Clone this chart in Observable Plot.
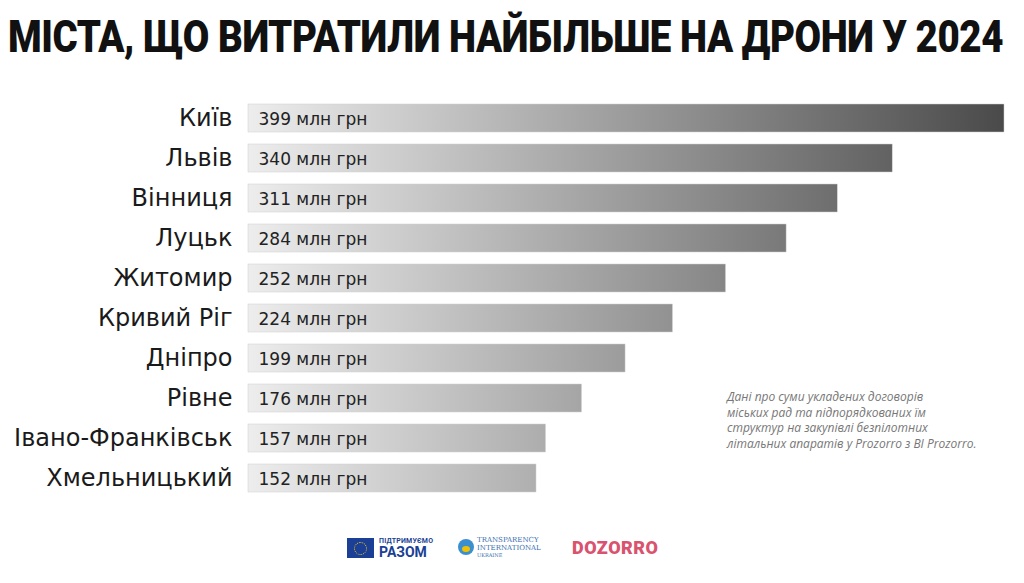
<!DOCTYPE html>
<html>
<head>
<meta charset="utf-8">
<script src="https://cdn.jsdelivr.net/npm/d3@7"></script>
<script src="https://cdn.jsdelivr.net/npm/@observablehq/plot@0.6"></script>
<style>
  html, body { margin: 0; padding: 0; background: #fff; width: 1024px; height: 583px; overflow: hidden; }
  #wrap { position: relative; width: 1024px; height: 583px; }
  h1 { position: absolute; left: 8px; top: 11px; margin: 0; font-family: Roboto, sans-serif; font-weight: 900;
       font-size: 44px; line-height: 52px; color: #111; white-space: nowrap; letter-spacing: -0.5px; }
  #chart { position: absolute; left: 0; top: 80px; }
  #note { position: absolute; left: 727px; top: 389px; font-family: "Open Sans", sans-serif; font-style: italic;
          font-size: 12px; line-height: 15.5px; color: #777; white-space: nowrap; }
  .logo { position: absolute; font-family: Roboto, sans-serif; }
</style>
</head>
<body>
<div id="wrap">
  <h1 id="title">МІСТА, ЩО ВИТРАТИЛИ НАЙБІЛЬШЕ НА ДРОНИ У 2024</h1>
  <div id="chart"></div>
  <div id="note">Дані про суми укладених договорів<br>міських рад та підпорядкованих їм<br>структур на закупівлі безпілотних<br>літальних апаратів у Prozorro з BI Prozorro.</div>
  <div class="logo" style="left:347px;top:538px;width:27px;height:20px;background:#1b3f94;"></div>
  <div class="logo" style="left:354px;top:542px;width:11px;height:11px;border-radius:50%;border:1px dotted #ffd617;"></div>
  <div class="logo" style="left:379px;top:537px;font-size:7px;color:#1b3f94;font-weight:700;letter-spacing:0.2px;">ПІДТРИМУЄМО</div>
  <div class="logo" style="left:379px;top:544px;font-size:14px;color:#1b3f94;font-weight:700;">РАЗОМ</div>
  <div class="logo" style="left:458px;top:539px;width:16px;height:16px;border-radius:50%;background:#3a8fd0;"></div>
  <div class="logo" style="left:462px;top:546px;width:8px;height:6px;border-radius:50%;background:#f2c200;"></div>
  <div class="logo" style="left:477px;top:537px;font-size:7px;line-height:7.5px;color:#3a6fb0;font-family:'DejaVu Serif',serif;">TRANSPARENCY<br>INTERNATIONAL<br><span style="font-size:5px">UKRAINE</span></div>
  <div class="logo" style="left:572px;top:537px;font-size:18px;color:#d9536f;font-weight:900;letter-spacing:0.5px;">DOZORRO</div>
</div>
<script>
const cities = ["Київ", "Львів", "Вінниця", "Луцьк", "Житомир", "Кривий Ріг", "Дніпро", "Рівне", "Івано-Франківськ", "Хмельницький"];
const values = [399, 340, 311, 284, 252, 224, 199, 176, 157, 152];
const unit = "млн грн";

const data = cities.map((c, i) => ({city: c, value: values[i]}));

const chart = Plot.plot({
  width: 1024,
  height: 503,
  marginLeft: 248,
  marginRight: 20,
  marginTop: 15,
  marginBottom: 82,
  x: {domain: [0, 399], axis: null},
  y: {domain: cities, axis: null, paddingInner: 0.29, paddingOuter: 0.15},
  marks: [
    Plot.barX(data, {y: "city", x: "value", fill: "url(#barGrad)", stroke: "#d0d0d0", strokeWidth: 0.5}),
    Plot.text(data, {y: "city", x: 0, text: "city", textAnchor: "end", dx: -16,
      fontSize: 24, fill: "#1a1a1a", fontFamily: "'DejaVu Sans', sans-serif"}),
    Plot.text(data, {y: "city", x: 0, text: d => `${d.value} ${unit}`, textAnchor: "start", dx: 10, dy: 1,
      fontSize: 17, fill: "#222", fontFamily: "'DejaVu Sans', sans-serif"})
  ]
});

const xs = chart.scale("x");
const svg = d3.select(chart);
const defs = svg.insert("defs", ":first-child");
const g = defs.append("linearGradient").attr("id", "barGrad")
  .attr("gradientUnits", "userSpaceOnUse")
  .attr("x1", xs.apply(0)).attr("x2", xs.apply(399)).attr("y1", 0).attr("y2", 0);
g.append("stop").attr("offset", "0%").attr("stop-color", "#ededed");
g.append("stop").attr("offset", "100%").attr("stop-color", "#4a4a4a");

document.getElementById("chart").appendChild(chart);

// fit title width to reference span
const t = document.getElementById("title");
const w = t.getBoundingClientRect().width;
const target = 995;
t.style.transformOrigin = "0 0";
t.style.transform = `scaleX(${target / w})`;
</script>
</body>
</html>
